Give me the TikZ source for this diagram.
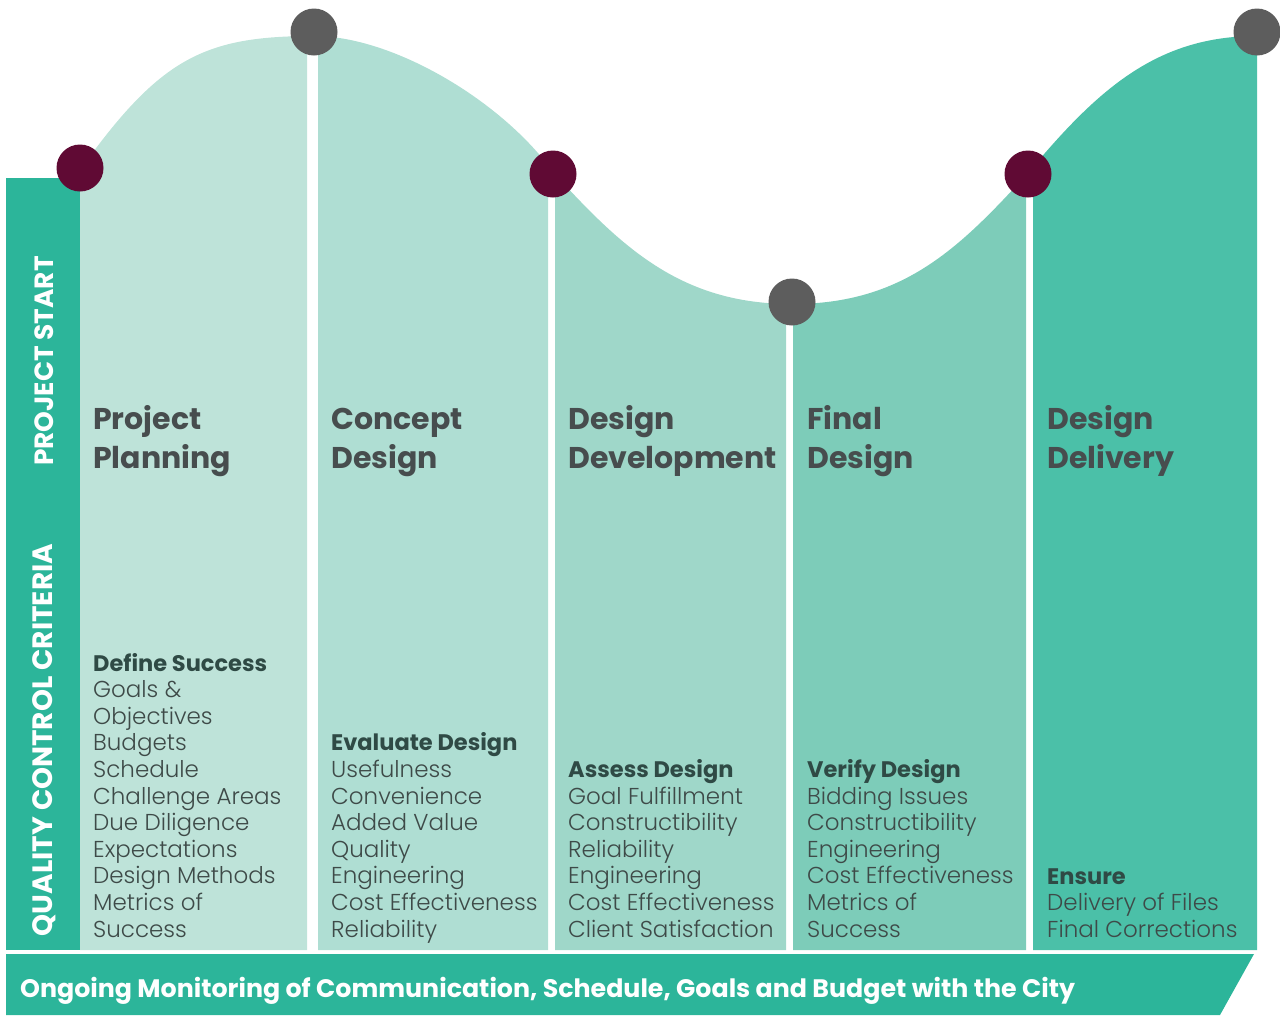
\documentclass[tikz,border=0pt]{standalone}
\usepackage{fontspec}
\setmainfont{Poppins}
\newfontfamily\lightfont{Poppins Light}
\definecolor{barc}{HTML}{2CB59A}
\definecolor{colA}{HTML}{BEE3D9}
\definecolor{colB}{HTML}{AFDED3}
\definecolor{colC}{HTML}{9FD7C9}
\definecolor{colD}{HTML}{7DCCB9}
\definecolor{colE}{HTML}{4BC0A8}
\definecolor{maroon}{HTML}{600A34}
\definecolor{dotgrey}{HTML}{5D5D5D}
\definecolor{titlec}{HTML}{474D4E}
\definecolor{bodyc}{HTML}{3E4A48}
\definecolor{subc}{HTML}{2F4A45}
\def\wave{(80,170) .. controls (160,58) and (204,36) .. (314,36)
  .. controls (394,36) and (503,102) .. (553,172)
  .. controls (623,249) and (682,304) .. (792,304)
  .. controls (902,304) and (958,250) .. (1028,173)
  .. controls (1098,89) and (1157,36) .. (1257,36)}
\begin{document}
\begin{tikzpicture}[x=1pt,y=-1pt,
  dot/.style={circle, inner sep=0pt, minimum size=47pt},
  body/.style={anchor=base west, inner sep=0pt, text=bodyc, font=\lightfont\fontsize{23}{27}\selectfont},
  sub/.style={anchor=base west, inner sep=0pt, text=subc, font=\fontsize{22.5}{27}\selectfont\bfseries},
  ttl/.style={anchor=base west, inner sep=0pt, text=titlec, font=\fontsize{30}{36}\selectfont\bfseries},
  vert/.style={rotate=90, inner sep=0pt, text=white}]
\useasboundingbox (0,0) rectangle (1280,1015);
% columns
\foreach \xa/\xb/\c in {80/307/colA, 318/548/colB, 555/786/colC, 793/1026/colD, 1033/1257/colE}{
  \begin{scope}
    \clip (\xa,0) rectangle (\xb,950);
    \fill[\c] (80,950) -- \wave -- (1257,950) -- cycle;
  \end{scope}
}
% left bar
\fill[barc] (6,178) rectangle (80,950);
\node[vert, font=\fontsize{26.4}{30}\selectfont\bfseries] (pstart) at (44,361) {PROJECT START};
\node[vert, font=\fontsize{28}{30}\selectfont\bfseries] (qcc) at (44,740) {QUALITY CONTROL CRITERIA};
% bottom banner
\fill[barc] (6,954) -- (1254,954) -- (1220,1015) -- (6,1015) -- cycle;
\node[anchor=base west, inner sep=0pt, text=white, font=\fontsize{25.3}{30}\selectfont\bfseries] (banner) at (20,997)
  {Ongoing Monitoring of Communication, Schedule, Goals and Budget with the City};
% dots
\node[dot, fill=maroon] (m1) at (80,168) {};
\node[dot, fill=dotgrey] (g1) at (314,32) {};
\node[dot, fill=maroon] (m2) at (553,174) {};
\node[dot, fill=dotgrey] (g2) at (792,302) {};
\node[dot, fill=maroon] (m3) at (1028,174) {};
\node[dot, fill=dotgrey] (g3) at (1257,32) {};
% titles
\node[ttl] (t1a) at (93,429) {Project};
\node[ttl] (t1b) at (93,468) {Planning};
\node[ttl] (t2a) at (331,429) {Concept};
\node[ttl] (t2b) at (331,468) {Design};
\node[ttl] (t3a) at (568,429) {Design};
\node[ttl] (t3b) at (568,468) {Development};
\node[ttl] (t4a) at (807,429) {Final};
\node[ttl] (t4b) at (807,468) {Design};
\node[ttl] (t5a) at (1047,429) {Design};
\node[ttl] (t5b) at (1047,468) {Delivery};
% lists
\node[sub] (s1) at (93,671) {Define Success};
\foreach \t [count=\i] in {Goals \&, Objectives, Budgets, Schedule, Challenge Areas, Due Diligence, Expectations, Design Methods, Metrics of, Success}
  \node[body] (l1-\i) at (93,{671+26.6*\i}) {\t};
\node[sub] (s2) at (331,750.8) {Evaluate Design};
\foreach \t [count=\i] in {Usefulness, Convenience, Added Value, Quality, Engineering, Cost Effectiveness, Reliability}
  \node[body] (l2-\i) at (331,{750.8+26.6*\i}) {\t};
\node[sub] (s3) at (568,777.4) {Assess Design};
\foreach \t [count=\i] in {Goal Fulfillment, Constructibility, Reliability, Engineering, Cost Effectiveness, Client Satisfaction}
  \node[body] (l3-\i) at (568,{777.4+26.6*\i}) {\t};
\node[sub] (s4) at (807,777.4) {Verify Design};
\foreach \t [count=\i] in {Bidding Issues, Constructibility, Engineering, Cost Effectiveness, Metrics of, Success}
  \node[body] (l4-\i) at (807,{777.4+26.6*\i}) {\t};
\node[sub] (s5) at (1047,884) {Ensure};
\foreach \t [count=\i] in {Delivery of Files, Final Corrections}
  \node[body] (l5-\i) at (1047,{884+26.6*\i}) {\t};
\end{tikzpicture}
\end{document}
